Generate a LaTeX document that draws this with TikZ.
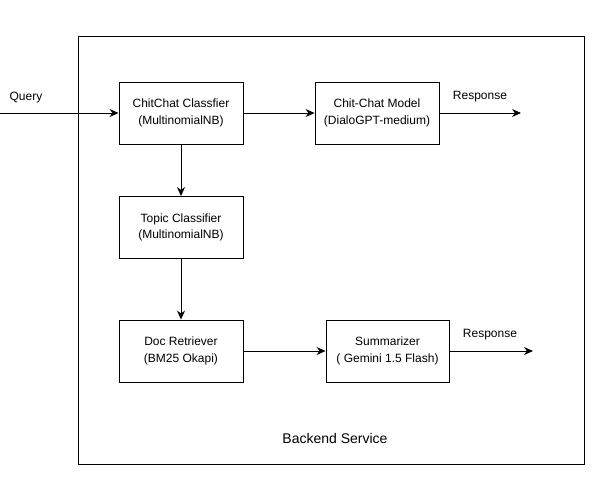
\documentclass[tikz,border=0pt]{standalone}
\usepackage{fontspec}
\setmainfont{Liberation Sans}
\usetikzlibrary{arrows.meta}
\begin{document}
\begin{tikzpicture}[x=1pt,y=-1pt,
  font=\fontsize{12}{16.5}\selectfont,
  line width=0.9pt,
  proc/.style={draw, minimum width=124pt, minimum height=62pt, inner sep=0pt, align=center},
  arr/.style={-{Stealth[length=9pt,width=8pt]}},
  lbl/.style={inner sep=0pt}]
\useasboundingbox (0,0) rectangle (616,491);
\node[draw, minimum width=506pt, minimum height=428pt, inner sep=0pt] (outer) at (331,250) {};
\node[proc] (cc) at (181,113) {ChitChat Classfier\\(MultinomialNB)};
\node[proc] (ccm) at (377,113) {Chit-Chat Model\\(DialoGPT-medium)};
\node[proc] (tc) at (181,227.5) {Topic Classifier\\(MultinomialNB)};
\node[proc] (dr) at (181,351) {Doc Retriever\\(BM25 Okapi)};
\node[proc, minimum width=123pt] (sm) at (387.5,351) {Summarizer\\( Gemini 1.5 Flash)};
\coordinate (qin) at (0,113);
\coordinate (r1) at (521,113);
\coordinate (r2) at (533,351);
\node[lbl] (ql) at (26,98) {Query};
\node[lbl] (rl1) at (480,97) {Response};
\node[lbl] (rl2) at (490,335) {Response};
\node[lbl, font=\fontsize{14}{16}\selectfont] (bs) at (335,438) {Backend Service};
\draw[arr] (qin) -- (cc);
\draw[arr] (cc) -- (ccm);
\draw[arr] (ccm) -- (r1);
\draw[arr] (cc) -- (tc);
\draw[arr] (tc) -- (dr);
\draw[arr] (dr) -- (sm);
\draw[arr] (sm) -- (r2);
\end{tikzpicture}
\end{document}
